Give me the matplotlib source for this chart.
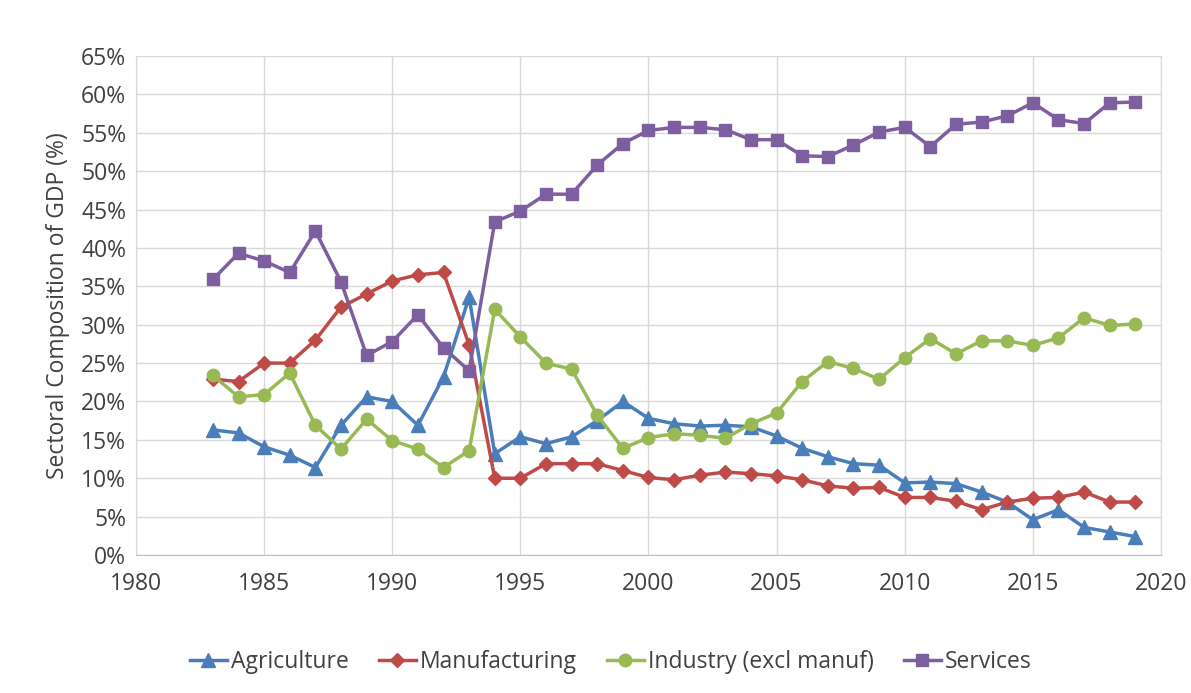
import numpy as np
from matplotlib import pyplot as plt

# Years and sector shares (% of GDP)
years = np.arange(1983, 2020)

agriculture = [16.3, 15.9, 14.1, 13.0, 11.4, 16.9, 20.6, 20.0, 16.9, 23.2,
               33.6, 13.2, 15.4, 14.5, 15.4, 17.5, 20.0, 17.8, 17.1, 16.8,
               16.9, 16.7, 15.5, 13.9, 12.8, 11.9, 11.7, 9.4, 9.5, 9.3,
               8.2, 6.9, 4.6, 5.9, 3.6, 3.0, 2.4]

manufacturing = [22.9, 22.6, 25.0, 25.0, 28.0, 32.3, 34.0, 35.7, 36.5, 36.8,
                 27.4, 10.0, 10.0, 11.9, 11.9, 11.9, 11.0, 10.1, 9.8, 10.4,
                 10.8, 10.6, 10.3, 9.8, 9.0, 8.7, 8.8, 7.5, 7.5, 7.0,
                 5.9, 6.9, 7.4, 7.5, 8.2, 6.9, 6.9]

industry = [23.4, 20.6, 20.9, 23.7, 16.9, 13.8, 17.7, 14.9, 13.8, 11.4,
            13.6, 32.0, 28.4, 25.0, 24.2, 18.2, 13.9, 15.3, 15.8, 15.6,
            15.2, 17.1, 18.5, 22.6, 25.2, 24.3, 22.9, 25.7, 28.2, 26.2,
            27.9, 27.9, 27.3, 28.3, 30.9, 29.9, 30.1]

services = [35.9, 39.3, 38.3, 36.8, 42.2, 35.6, 26.0, 27.8, 31.3, 27.0,
            24.0, 43.4, 44.8, 47.0, 47.0, 50.8, 53.6, 55.3, 55.7, 55.7,
            55.4, 54.1, 54.1, 52.0, 51.9, 53.4, 55.1, 55.7, 53.2, 56.1,
            56.4, 57.2, 58.9, 56.7, 56.2, 58.9, 59.0]

xticks = np.arange(1980, 2021, 5)
yticks = np.arange(0, 66, 5)

plt.rcParams['font.family'] = ['Open Sans', 'DejaVu Sans']

fig = plt.figure(figsize=(11.91, 6.93), dpi=100)
ax = fig.add_axes([0.1142, 0.1991, 0.8606, 0.7201])

series = [
    ('Agriculture', agriculture, '#4a7ebb', '^', 10),
    ('Manufacturing', manufacturing, '#be4b48', 'D', 7.5),
    ('Industry (excl manuf)', industry, '#98b954', 'o', 9),
    ('Services', services, '#7d5fa0', 's', 9),
]
for nome, valores, cor, marca, tam in series:
    ax.plot(years, valores, '-', color=cor, lw=2.5, marker=marca, ms=tam,
            label=nome, zorder=3)

ax.set_xlim(1980, 2020)
ax.set_ylim(0, 65)
ax.set_xticks(xticks)
ax.set_yticks(yticks)
ax.set_yticklabels([str(v) + '%' for v in yticks])
ax.tick_params(axis='both', length=0, labelsize=16.5, colors='#404040')
ax.tick_params(axis='x', pad=12)
ax.tick_params(axis='y', pad=7)
ax.grid(True, color='#d9d9d9', lw=1)
ax.set_axisbelow(True)
for lado in ['top', 'right', 'left']:
    ax.spines[lado].set_color('#d9d9d9')
ax.spines['bottom'].set_color('#bfbfbf')

ax.set_ylabel('Sectoral Composition of GDP (%)', fontsize=16.5, color='#404040',
              labelpad=8)

fig.legend(loc='center', bbox_to_anchor=(0.513, 0.045), ncol=4, frameon=False,
           fontsize=16.5, handlelength=1.6, handletextpad=0.2, columnspacing=1.3,
           labelcolor='#404040')

fig.savefig('out.png', dpi=100)
